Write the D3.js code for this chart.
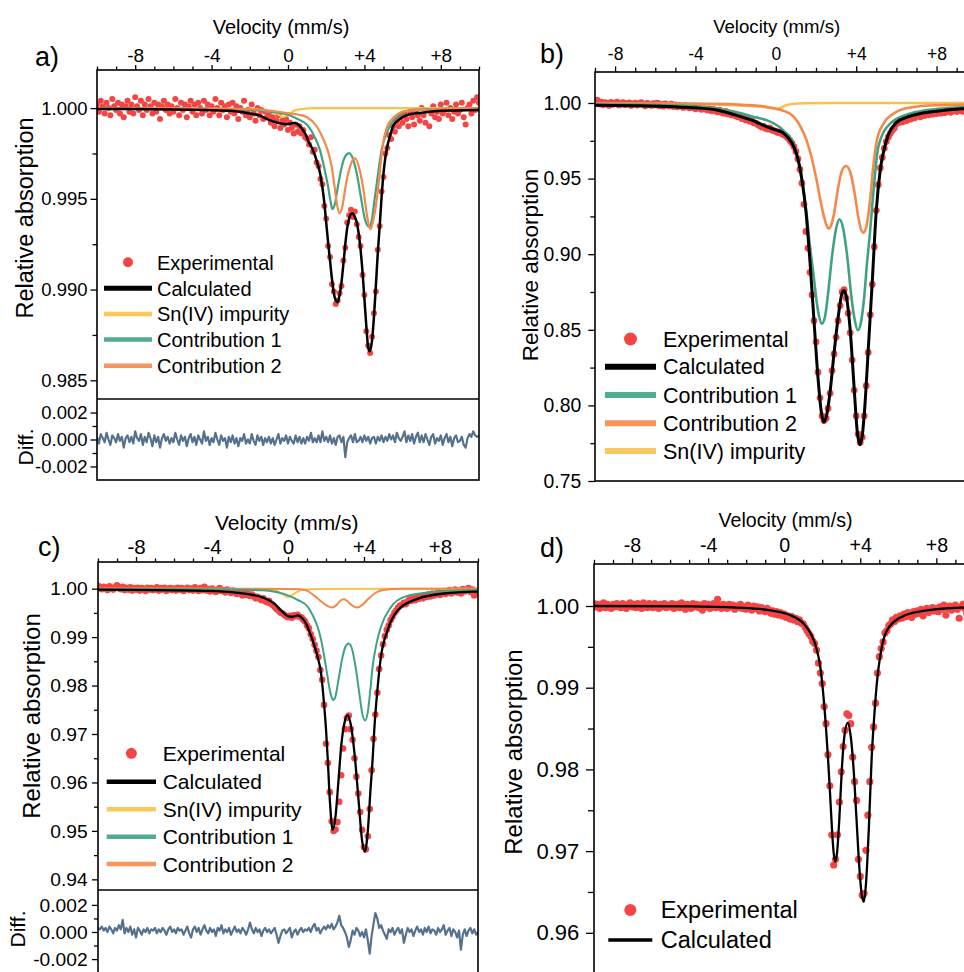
<!DOCTYPE html>
<html><head><meta charset="utf-8">
<script src="https://cdn.jsdelivr.net/npm/d3@7"></script>
<style>body{margin:0;background:#fff}svg{display:block}</style>
</head><body><svg id="chart" width="964" height="972"></svg>
<script>
// ---------------- DATA ----------------
const velocity = [
-10,-9.9,-9.8,-9.7,-9.6,-9.5,-9.4,-9.3,-9.2,-9.1,
-9,-8.9,-8.8,-8.7,-8.6,-8.5,-8.4,-8.3,-8.2,-8.1,
-8,-7.9,-7.8,-7.7,-7.6,-7.5,-7.4,-7.3,-7.2,-7.1,
-7,-6.9,-6.8,-6.7,-6.6,-6.5,-6.4,-6.3,-6.2,-6.1,
-6,-5.9,-5.8,-5.7,-5.6,-5.5,-5.4,-5.3,-5.2,-5.1,
-5,-4.9,-4.8,-4.7,-4.6,-4.5,-4.4,-4.3,-4.2,-4.1,
-4,-3.9,-3.8,-3.7,-3.6,-3.5,-3.4,-3.3,-3.2,-3.1,
-3,-2.9,-2.8,-2.7,-2.6,-2.5,-2.4,-2.3,-2.2,-2.1,
-2,-1.9,-1.8,-1.7,-1.6,-1.5,-1.4,-1.3,-1.2,-1.1,
-1,-0.9,-0.8,-0.7,-0.6,-0.5,-0.4,-0.3,-0.2,-0.1,
0,0.1,0.2,0.3,0.4,0.5,0.6,0.7,0.8,0.9,
1,1.1,1.2,1.3,1.4,1.5,1.6,1.7,1.8,1.9,
2,2.1,2.2,2.3,2.4,2.5,2.6,2.7,2.8,2.9,
3,3.1,3.2,3.3,3.4,3.5,3.6,3.7,3.8,3.9,
4,4.1,4.2,4.3,4.4,4.5,4.6,4.7,4.8,4.9,
5,5.1,5.2,5.3,5.4,5.5,5.6,5.7,5.8,5.9,
6,6.1,6.2,6.3,6.4,6.5,6.6,6.7,6.8,6.9,
7,7.1,7.2,7.3,7.4,7.5,7.6,7.7,7.8,7.9,
8,8.1,8.2,8.3,8.4,8.5,8.6,8.7,8.8,8.9,
9,9.1,9.2,9.3,9.4,9.5,9.6,9.7,9.8,9.9,
10];
const velocityTickValues = [-8, -4, 0, 4, 8];

// Panel a
const aExperimental = [
1.0002,0.9998,1.0004,1.0001,0.9997,1.0003,1.0000,0.9996,1.0005,1.0001,
0.9999,1.0003,0.9997,1.0002,0.9995,1.0001,1.0004,0.9998,1.0002,0.9997,
1.0006,1.0001,0.9999,1.0004,0.9996,1.0002,0.9999,1.0005,1.0001,0.9997,
1.0003,0.9998,1.0002,0.9994,1.0001,1.0004,0.9999,1.0002,0.9997,1.0001,
0.9998,1.0005,1.0000,0.9996,1.0003,0.9999,1.0002,0.9995,1.0001,1.0004,
0.9998,1.0002,0.9996,1.0003,1.0000,0.9997,1.0004,0.9999,1.0002,0.9996,
1.0001,0.9998,1.0005,1.0000,0.9996,1.0003,0.9999,1.0001,0.9995,1.0002,
0.9998,1.0003,0.9997,1.0001,0.9994,1.0000,0.9998,1.0004,0.9996,0.9999,
0.9995,1.0002,0.9997,0.9993,1.0000,0.9996,0.9999,0.9994,0.9998,0.9995,
0.9997,0.9992,0.9995,0.9990,0.9993,0.9996,0.9989,0.9993,0.9991,0.9994,
0.9988,0.9992,0.9989,0.9986,0.9991,0.9987,0.9990,0.9986,0.9988,0.9984,
0.9983,0.9980,0.9984,0.9976,0.9977,0.9970,0.9968,0.9961,0.9958,0.9946,
0.9939,0.9924,0.9918,0.9903,0.9899,0.9892,0.9894,0.9898,0.9902,0.9916,
0.9923,0.9937,0.9941,0.9944,0.9940,0.9943,0.9936,0.9929,0.9924,0.9908,
0.9897,0.9877,0.9869,0.9865,0.9874,0.9887,0.9899,0.9922,0.9935,0.9954,
0.9962,0.9975,0.9978,0.9985,0.9983,0.9990,0.9987,0.9993,0.9990,0.9995,
0.9992,0.9997,0.9994,0.9990,0.9998,0.9995,0.9991,0.9999,0.9996,0.9993,
1.0000,0.9996,0.9992,0.9999,0.9990,0.9997,1.0001,0.9995,0.9998,0.9994,
1.0002,0.9997,0.9999,1.0003,0.9996,1.0000,0.9994,0.9998,1.0002,0.9997,
0.9999,1.0003,0.9995,0.9991,1.0000,1.0002,0.9997,1.0004,0.9999,1.0006,
1.0003];
const aDifference = [
0.0002,-0.0003,0.0004,0.0001,-0.0002,0.0005,0.0000,-0.0004,0.0003,0.0001,
-0.0002,0.0004,-0.0001,0.0002,-0.0006,0.0001,0.0003,-0.0002,0.0002,-0.0003,
0.0006,0.0001,-0.0001,0.0004,-0.0004,0.0002,-0.0002,0.0005,0.0001,-0.0005,
0.0003,-0.0002,0.0002,-0.0006,0.0001,0.0004,-0.0001,0.0002,-0.0003,0.0001,
-0.0002,0.0005,0.0000,-0.0004,0.0003,-0.0001,0.0002,-0.0005,0.0001,0.0004,
-0.0002,0.0002,-0.0004,0.0003,0.0000,-0.0003,0.0006,-0.0001,0.0002,-0.0004,
0.0001,-0.0002,0.0005,0.0000,-0.0004,0.0003,-0.0001,0.0001,-0.0006,0.0002,
-0.0002,0.0003,-0.0003,0.0001,-0.0005,0.0001,-0.0001,0.0004,-0.0003,0.0000,
-0.0003,0.0004,-0.0001,-0.0004,0.0003,-0.0001,0.0002,-0.0004,0.0001,-0.0002,
0.0002,-0.0003,0.0001,-0.0004,0.0000,0.0004,-0.0003,0.0001,-0.0001,0.0003,
-0.0003,0.0002,-0.0001,-0.0003,0.0003,-0.0002,0.0002,-0.0003,0.0001,-0.0003,
0.0002,-0.0001,0.0005,-0.0002,0.0001,-0.0002,0.0003,-0.0002,0.0006,-0.0001,
0.0002,-0.0002,0.0003,-0.0003,0.0001,-0.0004,0.0002,0.0003,-0.0002,0.0002,
-0.0013,-0.0002,0.0001,0.0003,-0.0002,0.0004,-0.0002,-0.0001,0.0002,-0.0002,
0.0003,-0.0001,0.0002,-0.0003,0.0001,0.0002,-0.0003,0.0002,-0.0001,0.0003,
-0.0002,0.0002,-0.0001,0.0004,0.0000,0.0003,-0.0002,0.0005,0.0001,-0.0001,
0.0002,0.0006,-0.0002,0.0003,-0.0001,0.0004,-0.0003,0.0002,0.0005,-0.0002,
0.0003,-0.0002,0.0004,0.0000,-0.0004,0.0002,0.0004,-0.0003,0.0001,-0.0001,
0.0003,-0.0004,0.0001,0.0004,-0.0002,0.0002,-0.0005,0.0001,0.0003,-0.0002,
-0.0001,0.0002,-0.0004,-0.0006,0.0001,0.0004,0.0002,0.0006,0.0003,0.0002,
0.0003];
const aCalculated = [[-10,0.99995],[-6,0.99993],[-3,0.99985],[-2,0.9997],[-1.5,0.9996],[-1,0.99935],[-0.5,0.99918],[-0.2,0.99912],[0.05,0.99912],[0.3,0.99918],[0.5,0.99912],[0.7,0.9989],[0.9,0.9986],[1.1,0.9981],[1.3,0.9977],[1.5,0.9971],[1.7,0.9963],[1.9,0.9948],[2.0,0.9937],[2.1,0.9926],[2.2,0.9916],[2.3,0.9906],[2.4,0.9898],[2.5,0.9894],[2.6,0.9893],[2.7,0.9897],[2.8,0.9904],[2.9,0.9914],[3.0,0.9925],[3.1,0.9934],[3.2,0.9939],[3.35,0.9942],[3.5,0.9940],[3.6,0.9937],[3.7,0.9931],[3.8,0.9922],[3.9,0.9910],[4.0,0.9895],[4.1,0.9880],[4.2,0.9868],[4.28,0.9866],[4.4,0.9872],[4.5,0.9885],[4.6,0.9902],[4.7,0.9920],[4.8,0.9935],[4.9,0.9951],[5.0,0.9964],[5.1,0.9973],[5.2,0.9979],[5.35,0.9985],[5.5,0.9990],[5.8,0.99935],[6.2,0.9996],[7,0.99975],[8,0.99985],[10,0.9999]];
const aSnIV = [[-10,1.0],[-2,0.99995],[-1,0.9998],[-0.6,0.9997],[-0.4,0.99958],[-0.25,0.99952],[-0.1,0.99956],[0.1,0.9997],[0.3,0.99985],[0.7,0.99995],[1.5,1.0],[10,1.0]];
const aContribution1 = [[-10,1.0],[-4,0.99995],[-2,0.9999],[-1,0.9998],[0,0.99963],[0.5,0.9994],[1.0,0.99908],[1.4,0.9984],[1.67,0.9977],[1.9,0.9967],[2.1,0.99567],[2.22,0.9949],[2.33,0.99443],[2.45,0.9947],[2.6,0.9956],[2.8,0.9967],[3.0,0.99735],[3.2,0.99752],[3.4,0.9972],[3.6,0.9964],[3.8,0.9952],[4.0,0.9940],[4.15,0.99355],[4.25,0.99347],[4.38,0.9938],[4.55,0.9951],[4.72,0.99641],[4.9,0.9977],[5.16,0.99862],[5.5,0.9993],[5.85,0.99963],[6.5,0.9999],[10,1.0]];
const aContribution2 = [[-10,1.0],[-2,0.99995],[-0.5,0.9998],[0,0.99972],[0.5,0.99965],[1.0,0.9995],[1.5,0.9990],[1.8,0.9984],[2.1,0.9976],[2.3,0.9967],[2.44,0.99567],[2.58,0.9946],[2.71,0.9942],[2.85,0.9946],[3.0,0.9956],[3.2,0.9966],[3.5,0.99724],[3.75,0.9966],[3.95,0.9955],[4.15,0.9940],[4.32,0.99332],[4.48,0.9939],[4.6,0.9946],[4.72,0.9956],[4.85,0.9969],[4.98,0.99807],[5.2,0.9990],[5.5,0.99945],[6.2,0.99985],[10,1.0]];
const aAbsorptionTicks = [0.985, 0.990, 0.995, 1.000];
const aAbsorptionMinor = [0.9875, 0.9925, 0.9975];

// Panel b
const bExperimental = [
0.9992,0.9998,0.9989,1.0004,0.9995,1.0008,0.9990,1.0012,0.9997,1.0015,
1.0010,1.0018,0.9994,1.0006,0.9988,1.0002,0.9996,0.9984,1.0004,0.9991,
0.9998,1.0005,0.9987,0.9996,1.0003,0.9989,0.9995,1.0001,0.9984,0.9993,
0.9999,0.9986,0.9994,1.0002,0.9988,0.9981,0.9997,0.9990,0.9984,0.9995,
0.9987,0.9999,0.9982,0.9991,0.9979,0.9994,0.9986,0.9980,0.9992,0.9977,
0.9988,0.9975,0.9984,0.9979,0.9971,0.9983,0.9975,0.9968,0.9979,0.9970,
0.9962,0.9974,0.9965,0.9958,0.9969,0.9960,0.9953,0.9963,0.9948,0.9957,
0.9950,0.9941,0.9952,0.9938,0.9933,0.9945,0.9928,0.9934,0.9921,0.9928,
0.9915,0.9909,0.9918,0.9897,0.9905,0.9888,0.9893,0.9879,0.9884,0.9870,
0.9866,0.9857,0.9850,0.9841,0.9846,0.9832,0.9828,0.9835,0.9822,0.9817,
0.9812,0.9805,0.9809,0.9796,0.9790,0.9781,0.9770,0.9752,0.9735,0.9712,
0.9680,0.9630,0.9560,0.9470,0.9330,0.9150,0.9040,0.8880,0.8730,0.8560,
0.8420,0.8220,0.8050,0.7930,0.7900,0.7915,0.7980,0.8080,0.8230,0.8340,
0.8450,0.8560,0.8660,0.8750,0.8765,0.8710,0.8610,0.8480,0.8300,0.8100,
0.7930,0.7810,0.7755,0.7790,0.7930,0.8130,0.8350,0.8600,0.8800,0.9050,
0.9290,0.9460,0.9570,0.9640,0.9700,0.9745,0.9775,0.9800,0.9820,0.9835,
0.9862,0.9870,0.9881,0.9875,0.9890,0.9884,0.9898,0.9893,0.9906,0.9901,
0.9912,0.9920,0.9909,0.9925,0.9917,0.9928,0.9922,0.9933,0.9926,0.9935,
0.9930,0.9941,0.9933,0.9945,0.9936,0.9942,0.9949,0.9938,0.9947,0.9952,
0.9943,0.9950,0.9956,0.9945,0.9953,0.9958,0.9948,0.9955,0.9961,0.9951,
0.9957];
const bCalculated = [[-9.5,0.9986],[-9,0.9985],[-7,0.9982],[-5,0.9975],[-4,0.9968],[-3,0.9955],[-2,0.9920],[-1,0.9876],[-0.5,0.9845],[0,0.9822],[0.3,0.9808],[0.6,0.9772],[0.9,0.9710],[1.1,0.9630],[1.3,0.9490],[1.5,0.9280],[1.7,0.8950],[1.9,0.8560],[2.1,0.8180],[2.25,0.7970],[2.38,0.7890],[2.52,0.7930],[2.7,0.8090],[2.9,0.8350],[3.1,0.8580],[3.3,0.8745],[3.4,0.8760],[3.5,0.8725],[3.7,0.8500],[3.9,0.8110],[4.05,0.7830],[4.18,0.7740],[4.3,0.7800],[4.45,0.8030],[4.6,0.8370],[4.8,0.8820],[5.0,0.9290],[5.2,0.9560],[5.4,0.9700],[5.6,0.9790],[6.0,0.9870],[6.5,0.9905],[7.2,0.9930],[8,0.9946],[9.3,0.9962],[10.5,0.9968]];
const bContribution1 = [[-9.5,0.9991],[-6,0.9986],[-4,0.9978],[-2,0.9940],[-1,0.9905],[-0.45,0.9886],[0.37,0.9819],[0.87,0.9731],[1.2,0.9577],[1.53,0.9268],[1.7,0.9048],[1.87,0.8872],[2.0,0.8720],[2.15,0.8590],[2.29,0.8541],[2.45,0.8590],[2.6,0.8740],[2.8,0.8990],[3.0,0.9170],[3.17,0.9231],[3.35,0.9170],[3.55,0.8990],[3.75,0.8730],[3.92,0.8570],[4.08,0.8497],[4.25,0.8560],[4.4,0.8720],[4.55,0.8960],[4.67,0.9120],[4.85,0.9400],[5.1,0.9709],[5.69,0.9864],[6.69,0.9930],[8,0.9960],[10.5,0.9976]];
const bContribution2 = [[-9.5,0.9999],[-4,0.9996],[-1.94,0.9990],[-0.45,0.9974],[0.7,0.9930],[1.2,0.9850],[1.53,0.9753],[1.8,0.9630],[2.03,0.9489],[2.2,0.9370],[2.36,0.9268],[2.5,0.9200],[2.62,0.9169],[2.75,0.9190],[2.9,0.9270],[3.1,0.9440],[3.3,0.9555],[3.5,0.9583],[3.7,0.9545],[3.9,0.9420],[4.1,0.9250],[4.25,0.9160],[4.36,0.9143],[4.5,0.9180],[4.69,0.9356],[4.85,0.9580],[5.03,0.9753],[5.36,0.9864],[5.86,0.9930],[6.69,0.9970],[8,0.9985],[10.5,0.9991]];
const bSnIV = [[-9.5,0.9995],[-4,0.9992],[-2,0.9985],[-1,0.9978],[-0.5,0.9972],[-0.2,0.9966],[0.05,0.9962],[0.25,0.9968],[0.45,0.9982],[0.8,0.9993],[1.5,0.9998],[3,1.0],[10.5,1.0]];
const bAbsorptionTicks = [0.75, 0.80, 0.85, 0.90, 0.95, 1.00];
const bAbsorptionMinor = [0.775, 0.825, 0.875, 0.925, 0.975];

// Panel c
const cExperimental = [
1.0006,1.0002,0.9999,1.0004,1.0001,0.9997,1.0005,1.0002,0.9998,1.0003,
1.0007,1.0001,0.9999,1.0004,0.9997,1.0002,0.9998,1.0003,0.9996,1.0001,
0.9998,1.0002,0.9996,1.0001,0.9999,0.9995,1.0002,0.9998,1.0001,0.9997,
0.9999,1.0003,0.9996,1.0001,0.9998,1.0002,0.9995,0.9999,1.0001,0.9997,
1.0000,0.9996,1.0002,0.9998,1.0001,0.9995,0.9999,1.0002,0.9997,1.0000,
0.9996,1.0003,0.9998,0.9995,1.0001,0.9997,1.0004,0.9996,0.9999,0.9994,
1.0000,0.9997,0.9993,0.9998,1.0001,0.9995,0.9997,0.9992,0.9998,0.9995,
0.9991,0.9996,0.9993,0.9989,0.9994,0.9990,0.9986,0.9991,0.9987,0.9989,
0.9985,0.9988,0.9984,0.9980,0.9983,0.9979,0.9976,0.9980,0.9974,0.9972,
0.9975,0.9969,0.9966,0.9962,0.9958,0.9955,0.9951,0.9949,0.9946,0.9943,
0.9941,0.9944,0.9940,0.9945,0.9943,0.9946,0.9942,0.9941,0.9936,0.9932,
0.9924,0.9918,0.9906,0.9896,0.9884,0.9872,0.9859,0.9832,0.9812,0.9760,
0.9680,0.9640,0.9580,0.9520,0.9500,0.9503,0.9518,0.9560,0.9615,0.9670,
0.9710,0.9733,0.9738,0.9710,0.9688,0.9650,0.9612,0.9577,0.9539,0.9502,
0.9466,0.9462,0.9489,0.9545,0.9625,0.9690,0.9740,0.9785,0.9834,0.9862,
0.9885,0.9902,0.9915,0.9924,0.9935,0.9942,0.9950,0.9955,0.9961,0.9965,
0.9966,0.9971,0.9968,0.9974,0.9978,0.9975,0.9980,0.9976,0.9982,0.9979,
0.9984,0.9980,0.9986,0.9983,0.9988,0.9984,0.9990,0.9986,0.9989,0.9993,
0.9987,0.9991,0.9995,0.9989,0.9993,0.9997,0.9990,0.9994,0.9998,0.9992,
0.9996,0.9990,0.9999,0.9994,0.9997,1.0001,0.9993,0.9998,0.9986,0.9995,
0.9990];
const cDifference = [
0.0003,0.0002,0.0004,0.0001,0.0003,0.0000,0.0004,0.0002,-0.0001,0.0003,
0.0001,0.0005,0.0002,0.0009,-0.0001,0.0003,0.0000,0.0004,-0.0002,0.0002,
-0.0004,0.0003,0.0001,-0.0002,0.0002,0.0000,0.0003,-0.0001,0.0002,0.0001,
0.0003,-0.0001,0.0002,0.0000,0.0003,0.0001,-0.0002,0.0002,0.0004,0.0000,
0.0002,-0.0001,0.0003,0.0001,0.0002,-0.0002,0.0001,0.0004,-0.0001,-0.0004,
0.0002,0.0004,0.0000,0.0003,-0.0002,0.0002,0.0005,0.0001,-0.0001,0.0003,
0.0000,0.0002,-0.0003,0.0003,0.0001,0.0005,-0.0001,0.0002,0.0000,0.0003,
-0.0002,0.0001,0.0004,0.0000,0.0002,-0.0001,0.0003,0.0001,-0.0002,0.0002,
0.0007,0.0002,-0.0001,0.0003,0.0000,0.0002,-0.0003,0.0001,0.0003,0.0000,
0.0002,-0.0001,0.0001,0.0003,-0.0002,-0.0008,-0.0003,0.0001,0.0002,-0.0001,
0.0001,0.0003,-0.0004,0.0000,0.0002,-0.0002,0.0001,0.0003,0.0000,0.0002,
0.0001,0.0003,0.0000,0.0004,0.0006,0.0001,0.0003,-0.0001,0.0002,0.0004,
0.0002,0.0005,0.0003,0.0006,0.0002,0.0004,0.0007,0.0012,0.0005,0.0003,
0.0000,-0.0004,-0.0011,-0.0006,0.0001,-0.0002,0.0003,0.0001,-0.0003,0.0000,
-0.0004,0.0002,-0.0006,-0.0016,-0.0003,0.0006,0.0014,0.0010,0.0003,0.0005,
0.0001,-0.0002,-0.0005,0.0002,0.0000,0.0003,-0.0002,0.0001,0.0003,-0.0001,
0.0002,-0.0008,-0.0002,0.0003,0.0000,0.0002,-0.0003,0.0001,0.0004,0.0000,
0.0002,-0.0002,0.0003,0.0000,0.0004,-0.0001,0.0002,0.0001,-0.0002,0.0003,
0.0000,0.0002,0.0005,-0.0002,0.0001,0.0003,-0.0003,0.0002,0.0000,-0.0004,
0.0001,-0.0013,-0.0002,0.0002,-0.0003,0.0001,0.0003,-0.0001,0.0002,-0.0002,
0.0000];
const cCalculated = [[-10,0.9998],[-5,0.9996],[-3,0.9993],[-2,0.9988],[-1.42,0.9983],[-1,0.9976],[-0.72,0.9969],[-0.37,0.9955],[0.02,0.9943],[0.25,0.9942],[0.51,0.9945],[0.75,0.9939],[0.95,0.9928],[1.1,0.9914],[1.3,0.9893],[1.56,0.9859],[1.74,0.9825],[1.88,0.9770],[2.0,0.9710],[2.09,0.9650],[2.2,0.9565],[2.35,0.9502],[2.5,0.9530],[2.65,0.9600],[2.8,0.9675],[3.0,0.9728],[3.14,0.9739],[3.3,0.9720],[3.5,0.9660],[3.7,0.9570],[3.9,0.9480],[4.05,0.9457],[4.2,0.9500],[4.35,0.9590],[4.45,0.9645],[4.54,0.9708],[4.72,0.9797],[4.89,0.9859],[5.24,0.9914],[5.77,0.9955],[6.82,0.9979],[8.22,0.9990],[10,0.9994]];
const cSnIV = [[-10,1.0],[-1.5,0.99995],[-0.7,0.9997],[-0.35,0.9990],[0,0.9983],[0.35,0.9990],[0.7,0.9997],[1.5,0.99995],[10,1.0]];
const cContribution1 = [[-10,0.99995],[-5,0.9999],[-3,0.9998],[-1.42,0.99965],[-0.5,0.9992],[0,0.99862],[0.5,0.9977],[1.05,0.9962],[1.3,0.9945],[1.56,0.99208],[1.75,0.9893],[1.91,0.98589],[2.05,0.9826],[2.17,0.97971],[2.28,0.9778],[2.38,0.9770],[2.5,0.9778],[2.65,0.9810],[2.85,0.9855],[3.0,0.9878],[3.19,0.9887],[3.35,0.9878],[3.55,0.9840],[3.75,0.9785],[3.92,0.9740],[4.06,0.9728],[4.2,0.9745],[4.33,0.9790],[4.45,0.9838],[4.65,0.9885],[4.89,0.9921],[5.42,0.9962],[6.12,0.9983],[7.6,0.9993],[10,0.9997]];
const cContribution2 = [[-10,1.0],[0,0.99995],[0.6,0.9999],[1.0,0.9996],[1.4,0.9985],[1.8,0.9972],[2.05,0.9965],[2.31,0.9961],[2.55,0.9966],[2.75,0.9975],[2.93,0.9978],[3.1,0.9975],[3.35,0.9966],[3.63,0.9961],[3.9,0.9966],[4.2,0.9978],[4.6,0.9991],[5.0,0.9997],[6,1.0],[10,1.0]];
const cAbsorptionTicks = [0.94, 0.95, 0.96, 0.97, 0.98, 0.99, 1.00];
const cAbsorptionMinor = [0.945, 0.955, 0.965, 0.975, 0.985, 0.995];

// Panel d
const dExperimental = [
1.0003,0.9999,1.0002,0.9997,1.0001,1.0004,0.9998,1.0002,1.0000,0.9997,
1.0002,0.9999,1.0003,1.0000,0.9998,1.0003,1.0001,0.9997,1.0002,1.0004,
0.9999,1.0002,0.9998,1.0003,1.0001,0.9997,1.0004,1.0000,0.9998,1.0003,
1.0001,0.9998,1.0003,1.0000,0.9997,1.0002,0.9999,1.0003,0.9998,1.0001,
0.9999,1.0003,0.9997,1.0001,1.0002,0.9998,1.0004,0.9999,0.9996,1.0002,
1.0000,0.9997,1.0003,0.9999,1.0002,0.9998,1.0001,0.9995,1.0003,0.9999,
1.0002,0.9997,1.0001,1.0003,0.9998,1.0008,1.0000,0.9997,1.0002,0.9999,
0.9997,1.0002,0.9999,1.0001,0.9996,1.0000,0.9998,1.0002,0.9997,0.9999,
0.9996,1.0001,0.9998,0.9995,1.0000,0.9997,0.9999,0.9994,0.9998,0.9996,
0.9993,0.9997,0.9995,0.9991,0.9994,0.9990,0.9993,0.9989,0.9992,0.9988,
0.9990,0.9986,0.9988,0.9984,0.9987,0.9983,0.9985,0.9981,0.9983,0.9979,
0.9978,0.9974,0.9970,0.9966,0.9963,0.9957,0.9954,0.9946,0.9930,0.9918,
0.9905,0.9877,0.9856,0.9818,0.9780,0.9720,0.9683,0.9690,0.9720,0.9760,
0.9797,0.9828,0.9848,0.9868,0.9866,0.9856,0.9815,0.9785,0.9762,0.9690,
0.9669,0.9646,0.9648,0.9701,0.9744,0.9785,0.9827,0.9852,0.9881,0.9918,
0.9938,0.9948,0.9956,0.9967,0.9970,0.9976,0.9978,0.9983,0.9981,0.9986,
0.9984,0.9988,0.9985,0.9990,0.9987,0.9992,0.9989,0.9986,0.9993,0.9990,
0.9994,0.9991,0.9996,0.9988,0.9993,0.9997,0.9992,0.9995,0.9998,0.9994,
0.9997,0.9993,0.9999,0.9996,1.0001,0.9989,0.9997,1.0000,0.9995,0.9998,
1.0001,0.9996,0.9985,0.9999,1.0002,0.9997,0.9991,1.0000,0.9998,1.0002,
0.9999];
const dCalculated = [[-10,1.0],[-5,0.99995],[-2.5,0.9998],[-0.8,0.9995],[0.3,0.9989],[1.0,0.9979],[1.4,0.9966],[1.7,0.9948],[1.9,0.9925],[2.05,0.9893],[2.2,0.9850],[2.3,0.9815],[2.4,0.9775],[2.5,0.9732],[2.6,0.9698],[2.68,0.9687],[2.78,0.9698],[2.9,0.9740],[3.03,0.9800],[3.15,0.9838],[3.34,0.9857],[3.5,0.9840],[3.65,0.9800],[3.8,0.9740],[3.95,0.9680],[4.08,0.9646],[4.19,0.9638],[4.3,0.9660],[4.45,0.9728],[4.6,0.9815],[4.72,0.9860],[4.85,0.9900],[5.1,0.9946],[5.54,0.9975],[6.4,0.9989],[7.6,0.9995],[9.4,0.9998],[10.5,0.99985]];
const dAbsorptionTicks = [0.96, 0.97, 0.98, 0.99, 1.00];
const dAbsorptionMinor = [0.965, 0.975, 0.985, 0.995];

const diffTicks = [-0.002, 0, 0.002];
const diffMinor = [-0.001, 0.001];

// ---------------- STYLE ----------------
const FONT = "'Liberation Sans', Arial, Helvetica, sans-serif";
const COL = {exp: "#f44545", calc: "#000000", sn: "#f8c34b", c1: "#3fa383", c2: "#f5884b", diff: "#56718d"};

const svg = d3.select("#chart");

function txt(x, y, s, size, opts = {}) {
  const t = svg.append("text").attr("x", x).attr("y", y).text(s)
    .attr("font-family", FONT).attr("font-size", size).attr("fill", "#000")
    .attr("text-anchor", opts.anchor || "start");
  if (opts.rotate) t.attr("transform", `rotate(-90,${x},${y})`);
  if (opts.dy) t.attr("dy", opts.dy);
  return t;
}

function styleAxis(g, fontSize) {
  g.attr("font-family", FONT).attr("font-size", fontSize);
  g.select(".domain").remove();
  g.selectAll("line").attr("stroke", "#000").attr("stroke-width", 1.3);
  g.selectAll("text").attr("fill", "#000");
}

function drawPanel(p) {
  const x = d3.scaleLinear().domain(p.xDomain).range([p.left, p.right]);
  const y = d3.scaleLinear().domain(p.yDomain).range([p.mainBottom, p.top]);
  const clipId = "clip-" + p.name;
  svg.append("clipPath").attr("id", clipId).append("rect")
    .attr("x", p.left).attr("y", p.top).attr("width", p.right - p.left).attr("height", p.mainBottom - p.top);
  const plot = svg.append("g").attr("clip-path", `url(#${clipId})`);

  const pts = p.experimental.map((v, i) => [velocity[i], v]);
  plot.append("g").selectAll("circle").data(pts).join("circle")
    .attr("cx", d => x(d[0])).attr("cy", d => y(d[1])).attr("r", p.dotR).attr("fill", COL.exp);

  const line = d3.line().x(d => x(d[0])).y(d => y(d[1])).curve(d3.curveMonotoneX);
  p.curves.forEach(c => {
    plot.append("path").attr("d", line(c.data)).attr("fill", "none")
      .attr("stroke", c.color).attr("stroke-width", c.width).attr("stroke-linejoin", "round");
  });

  // top axis
  const gx = svg.append("g").attr("transform", `translate(0,${p.top})`)
    .call(d3.axisTop(x).tickValues(velocityTickValues).tickSize(p.xTickLen).tickPadding(p.xPad)
      .tickFormat(v => v > 0 ? "+" + v : String(v)));
  styleAxis(gx, p.xTickFont);
  const minorV = d3.range(Math.ceil(p.xDomain[0]), Math.floor(p.xDomain[1]) + 1).filter(v => !velocityTickValues.includes(v));
  const gxm = svg.append("g").attr("transform", `translate(0,${p.top})`)
    .call(d3.axisTop(x).tickValues(minorV).tickSize(p.xTickLen - 1.5).tickFormat(""));
  styleAxis(gxm, p.xTickFont);

  // left axis
  const gy = svg.append("g").attr("transform", `translate(${p.left},0)`)
    .call(d3.axisLeft(y).tickValues(p.yTicks).tickSize(p.yTickLen).tickPadding(p.yPad).tickFormat(v => v.toFixed(p.yDigits)));
  styleAxis(gy, p.yTickFont);
  const gym = svg.append("g").attr("transform", `translate(${p.left},0)`)
    .call(d3.axisLeft(y).tickValues(p.yMinor).tickSize(p.yTickLen - 2).tickFormat(""));
  styleAxis(gym, p.yTickFont);

  let bottom = p.mainBottom;
  if (p.difference) {
    const yd = d3.scaleLinear().domain(p.diffDomain).range([p.diffBottom, p.mainBottom]);
    const clipD = "clipd-" + p.name;
    svg.append("clipPath").attr("id", clipD).append("rect")
      .attr("x", p.left).attr("y", p.mainBottom).attr("width", p.right - p.left).attr("height", p.diffBottom - p.mainBottom);
    const dl = d3.line().x((d, i) => x(velocity[i])).y(d => yd(d));
    svg.append("g").attr("clip-path", `url(#${clipD})`).append("path")
      .attr("d", dl(p.difference)).attr("fill", "none").attr("stroke", COL.diff)
      .attr("stroke-width", 2.2).attr("stroke-linejoin", "round");
    const gd = svg.append("g").attr("transform", `translate(${p.left},0)`)
      .call(d3.axisLeft(yd).tickValues(diffTicks).tickSize(p.yTickLen).tickPadding(p.yPad).tickFormat(v => v.toFixed(3)));
    styleAxis(gd, p.yTickFont);
    const gdm = svg.append("g").attr("transform", `translate(${p.left},0)`)
      .call(d3.axisLeft(yd).tickValues(diffMinor).tickSize(p.yTickLen - 2).tickFormat(""));
    styleAxis(gdm, p.yTickFont);
    svg.append("line").attr("x1", p.left).attr("x2", p.right).attr("y1", p.mainBottom).attr("y2", p.mainBottom)
      .attr("stroke", "#000").attr("stroke-width", 1.6);
    bottom = p.diffBottom;
    txt(p.diffLabel[0], p.diffLabel[1], "Diff.", p.diffLabel[2], {anchor: "middle", rotate: true});
  }
  svg.append("rect").attr("x", p.left).attr("y", p.top).attr("width", p.right - p.left).attr("height", bottom - p.top)
    .attr("fill", "none").attr("stroke", "#000").attr("stroke-width", 1.6);

  // labels
  txt(p.panelLabel[0], p.panelLabel[1], p.name + ")", 27);
  txt(p.velTitle[0], p.velTitle[1], "Velocity (mm/s)", p.velTitle[2], {anchor: "middle"});
  txt(p.yTitle[0], p.yTitle[1], "Relative absorption", p.yTitle[2], {anchor: "middle", rotate: true});

  // legend
  const L = p.legend;
  L.items.forEach((it, i) => {
    const cy = L.rows[i];
    if (it.type === "dot") {
      svg.append("circle").attr("cx", (L.x0 + L.x1) / 2).attr("cy", cy).attr("r", L.dotR).attr("fill", COL.exp);
    } else {
      svg.append("line").attr("x1", L.x0).attr("x2", L.x1).attr("y1", cy).attr("y2", cy)
        .attr("stroke", it.color).attr("stroke-width", it.width).attr("stroke-opacity", it.color === "#000000" ? 1 : 0.9);
    }
    txt(L.tx, cy, it.label, L.font, {dy: "0.36em"});
  });
}

const legendA = [
  {label: "Experimental", type: "dot"},
  {label: "Calculated", color: COL.calc, width: 5},
  {label: "Sn(IV) impurity", color: COL.sn, width: 4.5},
  {label: "Contribution 1", color: COL.c1, width: 4.5},
  {label: "Contribution 2", color: COL.c2, width: 4.5}
];

drawPanel({
  name: "a", left: 97, right: 479, top: 70, mainBottom: 399, diffBottom: 480,
  xDomain: [-10, 10], yDomain: [0.98397, 1.0021], diffDomain: [-0.003, 0.003],
  yTicks: aAbsorptionTicks, yMinor: aAbsorptionMinor, yDigits: 3,
  experimental: aExperimental, difference: aDifference, dotR: 3,
  curves: [
    {data: aSnIV, color: COL.sn, width: 2.2},
    {data: aContribution1, color: COL.c1, width: 2.2},
    {data: aContribution2, color: COL.c2, width: 2.2},
    {data: aCalculated, color: COL.calc, width: 2.5}
  ],
  xTickLen: 5, xPad: 3.3, xTickFont: 19, yTickLen: 6.5, yPad: 3, yTickFont: 18.5,
  panelLabel: [35, 66], velTitle: [281, 34, 20], yTitle: [33, 218, 23.5], diffLabel: [33, 447, 21],
  legend: {x0: 104, x1: 152, tx: 157, dotR: 5, font: 20, rows: [262.3, 288.3, 314, 339.5, 365.7], items: legendA}
});

drawPanel({
  name: "b", left: 595, right: 986.8, top: 72, mainBottom: 481,
  xDomain: [-9, 10.5], yDomain: [0.75, 1.0205],
  yTicks: bAbsorptionTicks, yMinor: bAbsorptionMinor, yDigits: 2,
  experimental: bExperimental, dotR: 3.4,
  curves: [
    {data: bSnIV, color: COL.sn, width: 2.6},
    {data: bContribution2, color: COL.c2, width: 2.6},
    {data: bContribution1, color: COL.c1, width: 2.6},
    {data: bCalculated, color: COL.calc, width: 3}
  ],
  xTickLen: 5.7, xPad: 6, xTickFont: 17.5, yTickLen: 6.7, yPad: 7, yTickFont: 19.4,
  panelLabel: [540, 63], velTitle: [776.7, 33, 18.6], yTitle: [538, 265, 22.5],
  legend: {x0: 605, x1: 656, tx: 663, dotR: 6.5, font: 21.5, rows: [339, 366.7, 395, 423.3, 451],
    items: [
      {label: "Experimental", type: "dot"},
      {label: "Calculated", color: COL.calc, width: 6},
      {label: "Contribution 1", color: COL.c1, width: 6},
      {label: "Contribution 2", color: COL.c2, width: 6},
      {label: "Sn(IV) impurity", color: COL.sn, width: 6}
    ]}
});

drawPanel({
  name: "c", left: 98, right: 478, top: 562, mainBottom: 890, diffBottom: 974,
  xDomain: [-10, 10], yDomain: [0.9378, 1.0055], diffDomain: [-0.0031, 0.0031],
  yTicks: cAbsorptionTicks, yMinor: cAbsorptionMinor, yDigits: 2,
  experimental: cExperimental, difference: cDifference, dotR: 3.3,
  curves: [
    {data: cSnIV, color: COL.sn, width: 2},
    {data: cContribution2, color: COL.c2, width: 2},
    {data: cContribution1, color: COL.c1, width: 2},
    {data: cCalculated, color: COL.calc, width: 2.3}
  ],
  xTickLen: 5, xPad: 3.4, xTickFont: 20.5, yTickLen: 6, yPad: 4.4, yTickFont: 19.2,
  panelLabel: [38, 556], velTitle: [286.7, 530, 21], yTitle: [40, 716, 24], diffLabel: [25, 929, 21],
  legend: {x0: 106.7, x1: 156, tx: 162.7, dotR: 5.5, font: 21, rows: [753.3, 781.7, 809.3, 836.7, 864],
    items: [
      {label: "Experimental", type: "dot"},
      {label: "Calculated", color: COL.calc, width: 4.5},
      {label: "Sn(IV) impurity", color: COL.sn, width: 4.5},
      {label: "Contribution 1", color: COL.c1, width: 4.5},
      {label: "Contribution 2", color: COL.c2, width: 4.5}
    ]}
});

drawPanel({
  name: "d", left: 594, right: 974.4, top: 564, mainBottom: 990,
  xDomain: [-10, 10], yDomain: [0.953, 1.00514],
  yTicks: dAbsorptionTicks, yMinor: dAbsorptionMinor, yDigits: 2,
  experimental: dExperimental, dotR: 3.6,
  curves: [
    {data: dCalculated, color: COL.calc, width: 2.3}
  ],
  xTickLen: 5.7, xPad: 6.6, xTickFont: 19.6, yTickLen: 8, yPad: 6.7, yTickFont: 22,
  panelLabel: [540, 557], velTitle: [785.5, 527, 19.6], yTitle: [521.7, 752, 24],
  legend: {x0: 608.3, x1: 652.3, tx: 660.7, dotR: 6, font: 23.5, rows: [910, 940],
    items: [
      {label: "Experimental", type: "dot"},
      {label: "Calculated", color: COL.calc, width: 3.5}
    ]}
});
</script>
</body></html>
